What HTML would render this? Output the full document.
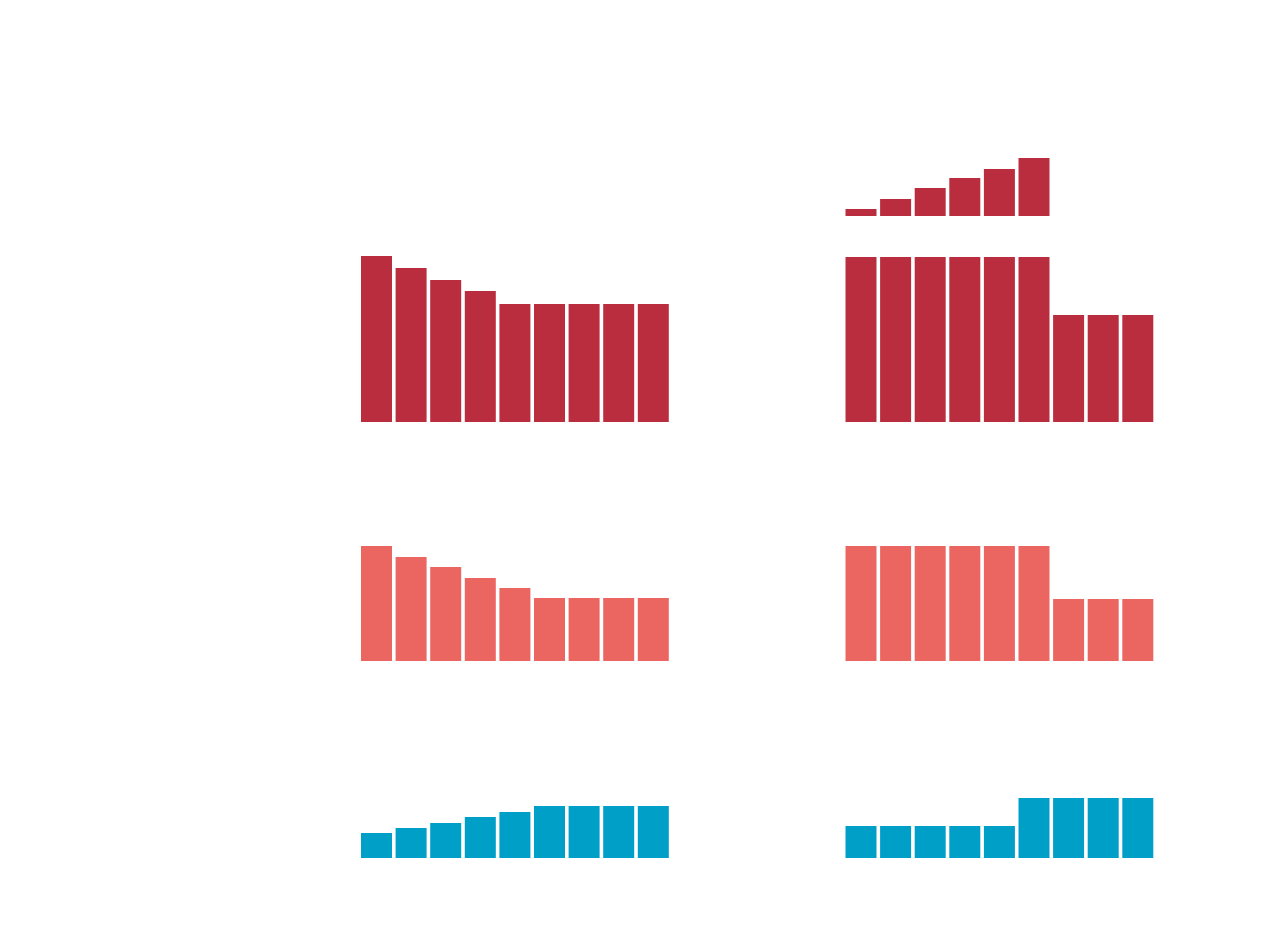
<!DOCTYPE html>
<html><head><meta charset="utf-8"><style>body{margin:0;background:#fff}svg{display:block}</style></head>
<body>
<svg id="chart" width="1280" height="942" xmlns="http://www.w3.org/2000/svg"></svg>
<script>
const leftRow1 = [166,154,142,131,118,118,118,118,118];
const rightRow1 = [165,165,165,165,165,165,107,107,107];
const topSmall = [7,17,28,38,47,58];
const leftRow2 = [115,104,94,83,73,63,63,63,63];
const rightRow2 = [115,115,115,115,115,115,62,62,62];
const leftRow3 = [25,30,35,41,46,52,52,52,52];
const rightRow3 = [32,32,32,32,32,60,60,60,60];

const svg = document.getElementById('chart');
const NS = 'http://www.w3.org/2000/svg';
const xLeft = i => 361 + i * 34.6;
const xRight = i => 845.5 + i * 34.6;
const yScale = (base, v) => base - v;

function drawRow(vals, xf, base, color, name) {
  vals.forEach((v, i) => {
    const r = document.createElementNS(NS, 'rect');
    r.setAttribute('x', xf(i));
    r.setAttribute('y', yScale(base, v));
    r.setAttribute('width', 31);
    r.setAttribute('height', v);
    r.setAttribute('fill', color);
    
    
    svg.appendChild(r);
  });
}
drawRow(leftRow1, xLeft, 422, '#BA2D3E', 'left-row1-bar');
drawRow(rightRow1, xRight, 422, '#BA2D3E', 'right-row1-bar');
drawRow(topSmall, xRight, 216, '#BA2D3E', 'top-small-bar');
drawRow(leftRow2, xLeft, 661, '#EC6661', 'left-row2-bar');
drawRow(rightRow2, xRight, 661, '#EC6661', 'right-row2-bar');
drawRow(leftRow3, xLeft, 858, '#009FC8', 'left-row3-bar');
drawRow(rightRow3, xRight, 858, '#009FC8', 'right-row3-bar');
</script>
</body></html>
